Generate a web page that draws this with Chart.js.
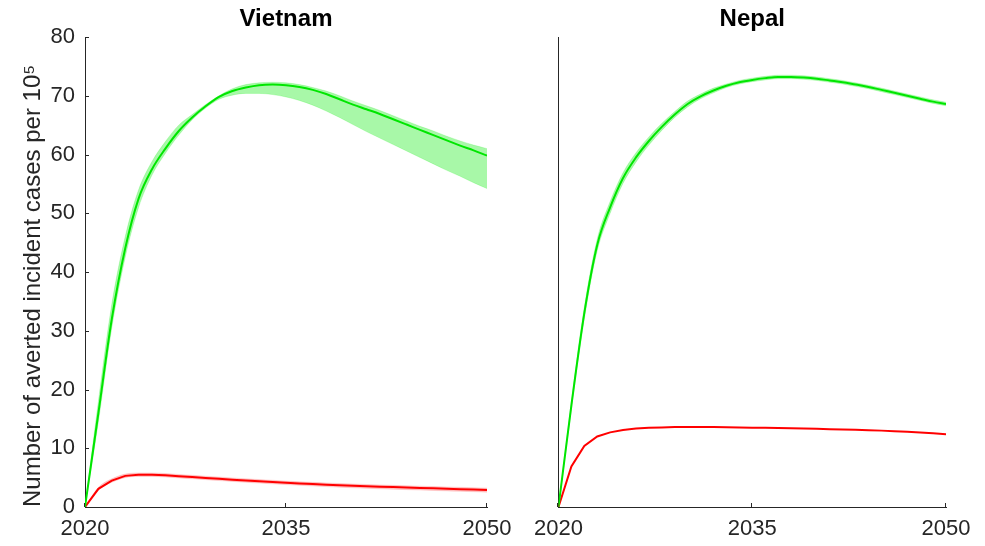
<!DOCTYPE html>
<html>
<head>
<meta charset="utf-8">
<script src="https://cdn.jsdelivr.net/npm/chart.js@4.4.1/dist/chart.umd.min.js"></script>
<style>
  body { margin: 0; background: #fff; }
  #wrap { position: relative; width: 985px; height: 546px; }
  canvas { position: absolute; top: 0; }
</style>
</head>
<body>
<div id="wrap">
  <canvas id="vietnamChart" width="525" height="546" style="left:0"></canvas>
  <canvas id="nepalChart" width="460" height="546" style="left:525px"></canvas>
</div>
<script>
const years = [2020, 2021, 2022, 2023, 2024, 2025, 2026, 2027, 2028, 2029, 2030,
  2031, 2032, 2033, 2034, 2035, 2036, 2037, 2038, 2039, 2040,
  2041, 2042, 2043, 2044, 2045, 2046, 2047, 2048, 2049, 2050];
const xTicks = [2020, 2035, 2050];
const yTicks = [0, 10, 20, 30, 40, 50, 60, 70, 80];

// Vietnam
const vietnamGreen = [0, 16, 32, 44, 52.5, 57.5, 61, 64, 66.3, 68.2, 69.8,
  70.8, 71.4, 71.8, 71.9, 71.8, 71.5, 71.0, 70.3, 69.4, 68.5,
  67.7, 66.9, 66.0, 65.1, 64.2, 63.3, 62.4, 61.5, 60.7, 59.8];
const vietnamGreenHigh = [0, 18, 34.5, 46, 54, 58.8, 62.2, 65, 66.8, 68.5, 70.0,
  71.2, 71.9, 72.2, 72.3, 72.2, 71.9, 71.4, 70.8, 70.0, 69.1,
  68.3, 67.5, 66.6, 65.7, 64.8, 64.0, 63.1, 62.3, 61.6, 61.0];
const vietnamGreenLow = [0, 14.5, 30.5, 42.5, 51, 56.5, 60.2, 63.3, 65.9, 67.9, 69.4,
  70.1, 70.4, 70.4, 70.2, 69.8, 69.2, 68.4, 67.4, 66.3, 65.1,
  63.9, 62.8, 61.7, 60.6, 59.5, 58.4, 57.3, 56.3, 55.2, 54.2];
const vietnamRed = [0, 3.1, 4.5, 5.3, 5.5, 5.5, 5.4, 5.25, 5.1, 4.95, 4.8,
  4.65, 4.5, 4.38, 4.25, 4.12, 4.0, 3.9, 3.8, 3.7, 3.62,
  3.54, 3.46, 3.39, 3.32, 3.25, 3.18, 3.11, 3.04, 2.97, 2.9];
const vietnamRedHigh = [0, 3.35, 4.8, 5.6, 5.8, 5.8, 5.7, 5.55, 5.4, 5.25, 5.1,
  4.95, 4.8, 4.68, 4.55, 4.42, 4.3, 4.2, 4.1, 4.0, 3.92,
  3.84, 3.76, 3.69, 3.62, 3.55, 3.48, 3.41, 3.35, 3.29, 3.23];
const vietnamRedLow = [0, 2.85, 4.2, 5.0, 5.2, 5.2, 5.1, 4.95, 4.8, 4.65, 4.5,
  4.35, 4.2, 4.07, 3.94, 3.81, 3.69, 3.58, 3.47, 3.36, 3.27,
  3.18, 3.1, 3.02, 2.95, 2.88, 2.81, 2.74, 2.67, 2.6, 2.53];

// Nepal
const nepalGreen = [0, 17.3, 33, 44.6, 51, 56, 59.5, 62.3, 64.7, 66.8, 68.6,
  69.9, 70.9, 71.7, 72.3, 72.7, 73.0, 73.2, 73.2, 73.1, 72.9,
  72.6, 72.3, 71.9, 71.5, 71.0, 70.5, 70.0, 69.5, 69.0, 68.6];
const nepalGreenHigh = [0, 18, 34, 45.6, 52, 56.9, 60.3, 63.0, 65.3, 67.3, 69.1,
  70.3, 71.3, 72.0, 72.6, 73.0, 73.3, 73.5, 73.5, 73.4, 73.2,
  72.9, 72.6, 72.2, 71.8, 71.3, 70.8, 70.3, 69.8, 69.3, 68.9];
const nepalGreenLow = [0, 16.6, 32, 43.6, 50, 55.1, 58.7, 61.6, 64.1, 66.3, 68.1,
  69.5, 70.5, 71.4, 72.0, 72.4, 72.7, 72.9, 72.9, 72.8, 72.6,
  72.3, 72.0, 71.6, 71.2, 70.7, 70.2, 69.7, 69.2, 68.7, 68.3];
const nepalRed = [0, 6.9, 10.4, 12.0, 12.7, 13.1, 13.35, 13.5, 13.55, 13.6, 13.6,
  13.6, 13.6, 13.58, 13.55, 13.5, 13.47, 13.44, 13.4, 13.36, 13.3,
  13.25, 13.2, 13.14, 13.07, 13.0, 12.9, 12.8, 12.68, 12.55, 12.4];

const GREEN = 'rgb(0, 230, 0)';
const GREEN_BAND = 'rgba(0, 235, 0, 0.34)';
const RED = 'rgb(255, 0, 0)';
const RED_BAND = 'rgba(255, 0, 0, 0.22)';
const AXIS = '#262626';
const FONT = "'Liberation Sans', Arial, Helvetica, sans-serif";

function toPoints(arr) {
  return arr.map((v, i) => ({ x: years[i], y: v }));
}

function line(data, color, smooth) {
  return {
    data: toPoints(data),
    borderColor: color,
    borderWidth: 2,
    pointRadius: 0,
    fill: false,
    cubicInterpolationMode: smooth ? 'monotone' : 'default',
    tension: 0
  };
}

function band(high, low, color) {
  return [{
    data: toPoints(high),
    borderColor: color,
    borderWidth: 0.5,
    backgroundColor: color,
    pointRadius: 0,
    cubicInterpolationMode: 'monotone',
    fill: '+1'
  }, {
    data: toPoints(low),
    borderColor: color,
    borderWidth: 0.5,
    pointRadius: 0,
    cubicInterpolationMode: 'monotone',
    fill: false
  }];
}

// MATLAB style ticks pointing into the plot area
const innerTicks = {
  id: 'innerTicks',
  afterDraw(chart, args, opts) {
    const ctx = chart.ctx;
    const area = chart.chartArea;
    ctx.save();
    ctx.strokeStyle = AXIS;
    ctx.lineWidth = 1;
    ctx.beginPath();
    if (opts.y) {
      yTicks.forEach(v => {
        const py = Math.round(chart.scales.y.getPixelForValue(v)) + 0.5;
        ctx.moveTo(area.left, py);
        ctx.lineTo(area.left + 4, py);
      });
    }
    xTicks.forEach(v => {
      const px = Math.round(chart.scales.x.getPixelForValue(v)) - 0.5;
      ctx.moveTo(px, area.bottom);
      ctx.lineTo(px, area.bottom - 4);
    });
    ctx.stroke();
    ctx.restore();
  }
};

function makeChart(id, title, datasets, showY) {
  const ctx = document.getElementById(id).getContext('2d');
  return new Chart(ctx, {
    type: 'line',
    data: { datasets: datasets },
    plugins: [innerTicks],
    options: {
      responsive: false,
      animation: false,
      layout: { padding: { left: 0, right: showY ? 38 : 39, top: 0, bottom: 0 } },
      plugins: {
        legend: { display: false },
        tooltip: { enabled: false },
        innerTicks: { y: showY },
        title: {
          display: true,
          text: title,
          fullSize: false,
          color: '#000',
          font: { family: FONT, size: 24, weight: 'bold', lineHeight: 1.2 },
          padding: { top: 5, bottom: 3.2 }
        }
      },
      scales: {
        x: {
          type: 'linear',
          min: 2020,
          max: 2050,
          afterBuildTicks: s => { s.ticks = xTicks.map(v => ({ value: v })); },
          afterFit: s => { s.height = 39; },
          grid: { display: false, drawTicks: false },
          border: { display: true, color: AXIS, width: 1 },
          ticks: {
            color: AXIS,
            padding: 9,
            maxRotation: 0,
            font: { family: FONT, size: 22 },
            callback: v => String(v)
          }
        },
        y: {
          type: 'linear',
          min: 0,
          max: 80,
          afterBuildTicks: s => { s.ticks = yTicks.map(v => ({ value: v })); },
          afterFit: s => { s.width = showY ? 85 : 31; },
          grid: { display: false, drawTicks: false },
          border: { display: true, color: AXIS, width: 1 },
          ticks: {
            display: showY,
            color: AXIS,
            padding: 10,
            font: { family: FONT, size: 22 }
          },
          title: {
            display: showY,
            text: 'Number of averted incident cases per 10\u2075',
            color: AXIS,
            align: 'start',
            font: { family: FONT, size: 24 },
            padding: { top: 19, bottom: 0 }
          }
        }
      }
    }
  });
}

makeChart('vietnamChart', 'Vietnam', [
  line(vietnamGreen, GREEN, true),
  line(vietnamRed, RED, false),
  ...band(vietnamGreenHigh, vietnamGreenLow, GREEN_BAND),
  ...band(vietnamRedHigh, vietnamRedLow, RED_BAND)
], true);

makeChart('nepalChart', 'Nepal', [
  line(nepalGreen, GREEN, true),
  line(nepalRed, RED, false),
  ...band(nepalGreenHigh, nepalGreenLow, GREEN_BAND)
], false);
</script>
</body>
</html>
